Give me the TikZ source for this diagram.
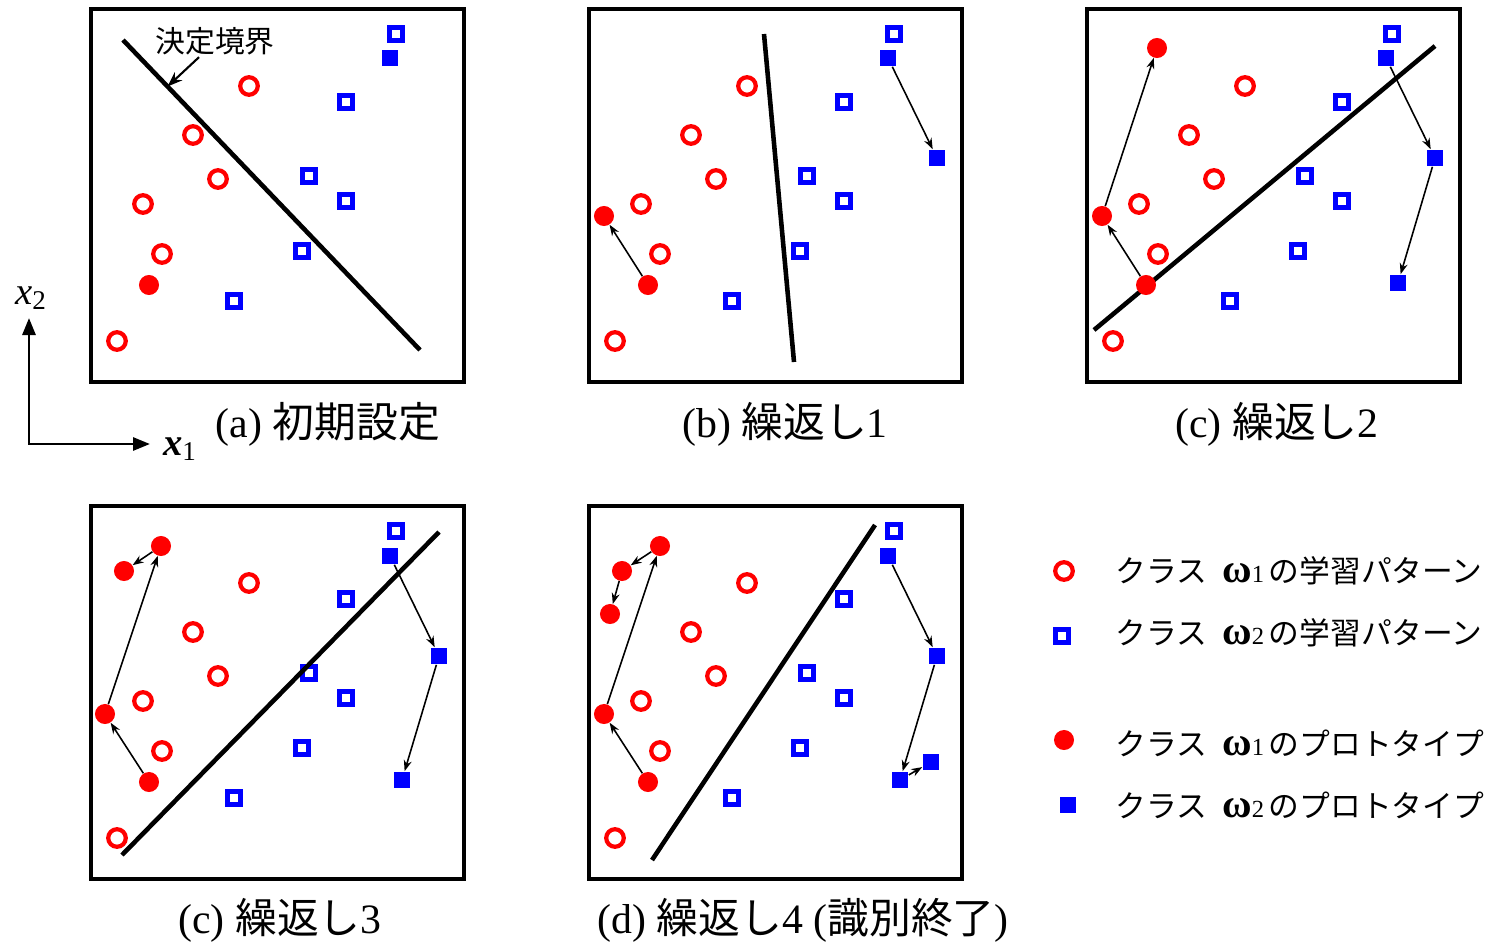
\documentclass[tikz,border=0pt]{standalone}
\usepackage{fontspec}
\setmainfont{Liberation Serif}
\newfontfamily\jpfont{Noto Sans CJK JP}
\usetikzlibrary{arrows.meta,calc}
\definecolor{PTred}{RGB}{255,0,0}
\definecolor{PTblue}{RGB}{0,0,255}
\tikzset{
  frame/.style={draw=black,line width=2.1pt},
  pat1/.style={circle,draw=PTred,line width=2.4pt,minimum size=10pt,inner sep=0pt},
  pat2/.style={rectangle,draw=PTblue,line width=2.8pt,minimum size=7.2pt,inner sep=0pt},
  proto1/.style={circle,fill=PTred,minimum size=11.4pt,inner sep=0pt},
  proto2/.style={rectangle,fill=PTblue,minimum size=9.6pt,inner sep=0pt},
  mv/.style={-{Stealth[length=2.2mm,width=1.6mm]},line width=0.9pt},
  bound/.style={line width=2.6pt},
  axs/.style={{Triangle[length=3.4mm,width=2.6mm]}-{Triangle[length=3.4mm,width=2.6mm]},line width=1.6pt},
  capt/.style={font=\fontsize{23.8}{26}\selectfont,inner sep=0pt},
  lgd/.style={font=\fontsize{17.5}{20}\selectfont,anchor=west,inner sep=0pt},
  lbl/.style={font=\fontsize{17}{20}\selectfont,inner sep=0pt}
}
\newcommand{\omsub}[1]{{\fontsize{23}{23}\selectfont\bfseries ω}{\fontsize{14}{14}\selectfont #1}}

\begin{document}
\begin{tikzpicture}[x=0.02cm,y=-0.02cm]
  \useasboundingbox (0,0) rectangle (1490,943);
  % frames and learning patterns (same in every panel)
  \foreach \pn/\ox/\oy in {a/91/9,b/589/9,c/1087/9,e/91/506,d/589/506}{
    \draw[frame] (\ox,\oy) rectangle ++(373,373);
    \foreach \x/\y [count=\i] in {158/77,102/126,127/170,52/195,71/245,26/332}
      \node[pat1] (\pn-r\i) at (\ox+\x,\oy+\y) {};
    \foreach \x/\y [count=\i] in {305/25,255/93,218/167,255/192,211/242,143/292}
      \node[pat2] (\pn-b\i) at (\ox+\x,\oy+\y) {};
  }
  % decision boundaries
  \coordinate (a-l1) at (123,40);   \coordinate (a-l2) at (420,350);
  \coordinate (b-l1) at (764,34);   \coordinate (b-l2) at (794,362);
  \coordinate (c-l1) at (1094,330); \coordinate (c-l2) at (1435,46);
  \coordinate (e-l1) at (122,855);  \coordinate (e-l2) at (439,532);
  \coordinate (d-l1) at (652,860);  \coordinate (d-l2) at (875,525);
  \foreach \pn in {a,b,c,e,d}
    \draw[bound] (\pn-l1) -- (\pn-l2);
  \node[lbl] (a-lbl) at (215,41) {\jpfont 決定境界};
  \coordinate (a-hit) at ($(a-l1)!0.15!(a-l2)$);
  \draw[-{Stealth[length=3mm,width=2.2mm]},line width=1.2pt] ($(a-lbl.south)+(-16,2)$) -- (a-hit);

  % (a) initial prototypes
  \node[proto1] (a-p1) at (149,285) {};
  \node[proto2] (a-q1) at (390,58) {};
  % (b) iteration 1
  \node[proto1] (b-p1) at (648,285) {};
  \node[proto1] (b-p2) at (604,216) {};
  \node[proto2] (b-q1) at (888,58) {};
  \node[proto2] (b-q2) at (937,158) {};
  \draw[mv] (b-p1) -- (b-p2);
  \draw[mv] (b-q1) -- (b-q2);
  % (c) iteration 2
  \node[proto1] (c-p1) at (1146,285) {};
  \node[proto1] (c-p2) at (1102,216) {};
  \node[proto1] (c-p3) at (1157,48) {};
  \node[proto2] (c-q1) at (1386,58) {};
  \node[proto2] (c-q2) at (1435,158) {};
  \node[proto2] (c-q3) at (1398,283) {};
  \draw[mv] (c-p1) -- (c-p2);
  \draw[mv] (c-p2) -- (c-p3);
  \draw[mv] (c-q1) -- (c-q2);
  \draw[mv] (c-q2) -- (c-q3);
  % (c) iteration 3
  \node[proto1] (e-p1) at (149,782) {};
  \node[proto1] (e-p2) at (105,714) {};
  \node[proto1] (e-p3) at (161,546) {};
  \node[proto1] (e-p4) at (124,571) {};
  \node[proto2] (e-q1) at (390,556) {};
  \node[proto2] (e-q2) at (439,656) {};
  \node[proto2] (e-q3) at (402,780) {};
  \draw[mv] (e-p1) -- (e-p2);
  \draw[mv] (e-p2) -- (e-p3);
  \draw[mv] (e-p3) -- (e-p4);
  \draw[mv] (e-q1) -- (e-q2);
  \draw[mv] (e-q2) -- (e-q3);
  % (d) iteration 4
  \node[proto1] (d-p1) at (648,782) {};
  \node[proto1] (d-p2) at (604,714) {};
  \node[proto1] (d-p3) at (660,546) {};
  \node[proto1] (d-p4) at (622,571) {};
  \node[proto1] (d-p5) at (610,614) {};
  \node[proto2] (d-q1) at (888,556) {};
  \node[proto2] (d-q2) at (937,656) {};
  \node[proto2] (d-q3) at (900,780) {};
  \node[proto2] (d-q4) at (931,762) {};
  \draw[mv] (d-p1) -- (d-p2);
  \draw[mv] (d-p2) -- (d-p3);
  \draw[mv] (d-p3) -- (d-p4);
  \draw[mv] (d-p4) -- (d-p5);
  \draw[mv] (d-q1) -- (d-q2);
  \draw[mv] (d-q2) -- (d-q3);
  \draw[mv] (d-q3) -- (d-q4);

  % axes
  \coordinate (org) at (29,444);
  \coordinate (ytip) at (29,318);
  \coordinate (xtip) at (150,444);
  \draw[axs] (ytip) -- (org) -- (xtip);
  \node[font=\fontsize{22}{24}\selectfont,inner sep=0pt] (x2lbl) at (31,298) {\textit{x}\textsubscript{2}};
  \node[font=\fontsize{22}{24}\selectfont,inner sep=0pt] (x1lbl) at (180,449) {\textbf{\textit{x}}\textsubscript{1}};

  % captions
  \node[capt] (a-cap) at (328,424) {(a) {\jpfont 初期設定}};
  \node[capt] (b-cap) at (785,424) {(b) {\jpfont 繰返し}1};
  \node[capt] (c-cap) at (1277,424) {(c) {\jpfont 繰返し}2};
  \node[capt] (e-cap) at (280,920) {(c) {\jpfont 繰返し}3};
  \node[capt] (d-cap) at (803,920) {(d) {\jpfont 繰返し}4 ({\jpfont 識別終了})};

  % legend
  \node[pat1] (k1) at (1064,571) {};
  \node[pat2] (k2) at (1062,636) {};
  \node[proto1] (k3) at (1064,740) {};
  \node[proto2] (k4) at (1068,805) {};
  \node[lgd] (t1) at (1115,571) {{\jpfont クラス}\hspace{0.5em}\omsub{1}\hspace{0.15em}{\jpfont の学習パターン}};
  \node[lgd] (t2) at (1115,633) {{\jpfont クラス}\hspace{0.5em}\omsub{2}\hspace{0.15em}{\jpfont の学習パターン}};
  \node[lgd] (t3) at (1115,743) {{\jpfont クラス}\hspace{0.5em}\omsub{1}\hspace{0.15em}{\jpfont のプロトタイプ}};
  \node[lgd] (t4) at (1115,805) {{\jpfont クラス}\hspace{0.5em}\omsub{2}\hspace{0.15em}{\jpfont のプロトタイプ}};
\end{tikzpicture}
\end{document}
